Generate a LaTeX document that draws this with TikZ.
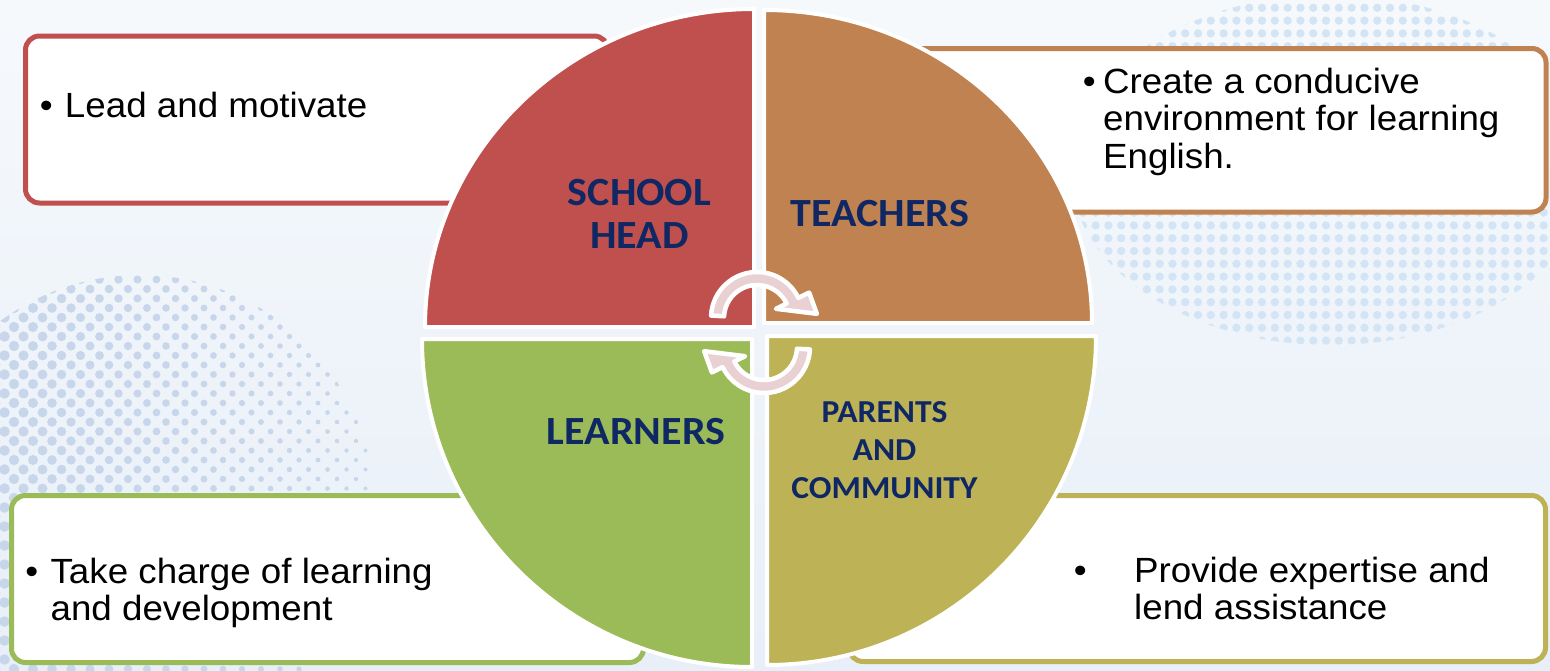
\documentclass[tikz,border=0pt]{standalone}
\usepackage{fontspec}
\usepackage{graphicx}
\setmainfont{Liberation Sans}
\newfontfamily\labelfont{Carlito}
\usetikzlibrary{calc}

\definecolor{bgtop}{HTML}{F6F9FC}
\definecolor{bgbot}{HTML}{E8EFF8}
\definecolor{dotA}{HTML}{C7D6EA}
\definecolor{dotB}{HTML}{D3E5F5}
\definecolor{qred}{HTML}{C0504D}
\definecolor{qorange}{HTML}{BF8250}
\definecolor{qgreen}{HTML}{9BBB59}
\definecolor{qolive}{HTML}{BEB256}
\definecolor{navy}{HTML}{0F2864}
\definecolor{cyclefill}{HTML}{E9D1D3}

% slightly widened lettering
\newcommand{\hstretch}[1]{\scalebox{1.05}[1]{#1}}

\begin{document}
\begin{tikzpicture}[x=1pt,y=-1pt,
  infobox/.style={fill=white, line width=5, rounded corners=14},
  quadrant/.style={draw=white, line width=4, line join=round},
  cyclearrow/.style={fill=cyclefill, draw=white, line width=4.5, line join=round},
  qlabel/.style={inner sep=0, anchor=base, text=navy, font=\labelfont\bfseries\fontsize{40}{43}\selectfont},
  qlabelsmall/.style={inner sep=0, anchor=base, text=navy, font=\labelfont\bfseries\fontsize{32}{38}\selectfont},
  bodytext/.style={inner sep=0, anchor=base west, text=black, font=\fontsize{35}{37.5}\selectfont}
]
\useasboundingbox (0,0) rectangle (1550,670);

% background
\shade[top color=bgtop, bottom color=bgbot] (0,0) rectangle (1550,670);

% halftone disc on the left
\begin{scope}
  \clip (140,510) circle (235);
  \foreach \i in {0,...,52}{
    \foreach \j in {0,...,26}{
      \pgfmathsetmacro\dx{-100+9.5*\i}
      \pgfmathsetmacro\dy{270+19*\j+9.5*mod(\i,2)}
      \pgfmathsetmacro\rr{max(1.8,6.2-0.009*(\dx+100))}
      \fill[dotA] (\dx,\dy) circle (\rr);
    }
  }
\end{scope}

% dotted cloud on the upper right
\begin{scope}
  \clip (1330,170) ellipse [x radius=260, y radius=175];
  \foreach \i in {0,...,38}{
    \foreach \j in {0,...,28}{
      \fill[dotB] (1070+12.8*\i,-5+12.8*\j) circle (4.2);
    }
  }
\end{scope}

% text boxes behind the circle
\draw[infobox, draw=qred]    (25.5,36)   rectangle (608,203);
\draw[infobox, draw=qorange] (870,48.5)  rectangle (1546,212);
\draw[infobox, draw=qgreen]  (11.5,495.5) rectangle (643.5,662.5);
\draw[infobox, draw=qolive]  (849,495.5) rectangle (1545.5,661.5);

% four quarter discs
\filldraw[quadrant, fill=qred]    (754,327) -- ++(-329,0) arc[start angle=180,end angle=270,x radius=329,y radius=318] -- cycle;
\filldraw[quadrant, fill=qorange] (764,323) -- ++(0,-313) arc[start angle=270,end angle=360,x radius=328,y radius=313] -- cycle;
\filldraw[quadrant, fill=qgreen]  (752,339) -- ++(0,328) arc[start angle=90,end angle=180,x radius=330,y radius=328] -- cycle;
\filldraw[quadrant, fill=qolive]  (767,336) -- ++(329,0) arc[start angle=0,end angle=90,x radius=329,y radius=329] -- cycle;

% cycle arrows in the middle
\coordinate (c1) at (757,318);
\coordinate (c2) at (764,347);
\filldraw[cyclearrow] ($(c1)+(183:46)$) arc[start angle=183,end angle=334,radius=46]
  -- ($(c1)+(334:58)$) -- ($(c1)+(-4:60)$) -- ($(c1)+(334:21)$) -- ($(c1)+(334:33)$)
  arc[start angle=334,end angle=183,radius=33] -- cycle;
\filldraw[cyclearrow] ($(c2)+(3:46)$) arc[start angle=3,end angle=154,radius=46]
  -- ($(c2)+(154:58)$) -- ($(c2)+(176:60)$) -- ($(c2)+(154:21)$) -- ($(c2)+(154:33)$)
  arc[start angle=154,end angle=3,radius=33] -- cycle;

% quadrant labels
\node[qlabel] (head) at (639.5,205) {\hstretch{\begin{tabular}[t]{@{}c@{}}SCHOOL\\HEAD\end{tabular}}};
\node[qlabel] (teach) at (880,226) {\hstretch{TEACHERS}};
\node[qlabel] (learn) at (636,444) {\hstretch{LEARNERS}};
\node[qlabelsmall] (parents) at (884.5,422) {\hstretch{\begin{tabular}[t]{@{}c@{}}PARENTS\\AND\\COMMUNITY\end{tabular}}};

% bullet texts
\node[bodytext] (lead) at (39.6,117) {\hstretch{\begin{tabular}[t]{@{}l@{}l@{}}\makebox[24pt][l]{•}&Lead and motivate\end{tabular}}};
\node[bodytext] (create) at (1082.6,93) {\hstretch{\begin{tabular}[t]{@{}l@{}l@{}}\makebox[19.4pt][l]{•}&Create a conducive\\&environment for learning\\&English.\end{tabular}}};
\node[bodytext] (charge) at (25.2,583) {\hstretch{\begin{tabular}[t]{@{}l@{}l@{}}\makebox[24pt][l]{•}&Take charge of learning\\&and development\end{tabular}}};
\node[bodytext] (provide) at (1073.6,582) {\hstretch{\begin{tabular}[t]{@{}l@{}l@{}}\makebox[57.5pt][l]{•}&Provide expertise and\\&lend assistance\end{tabular}}};
\end{tikzpicture}
\end{document}
